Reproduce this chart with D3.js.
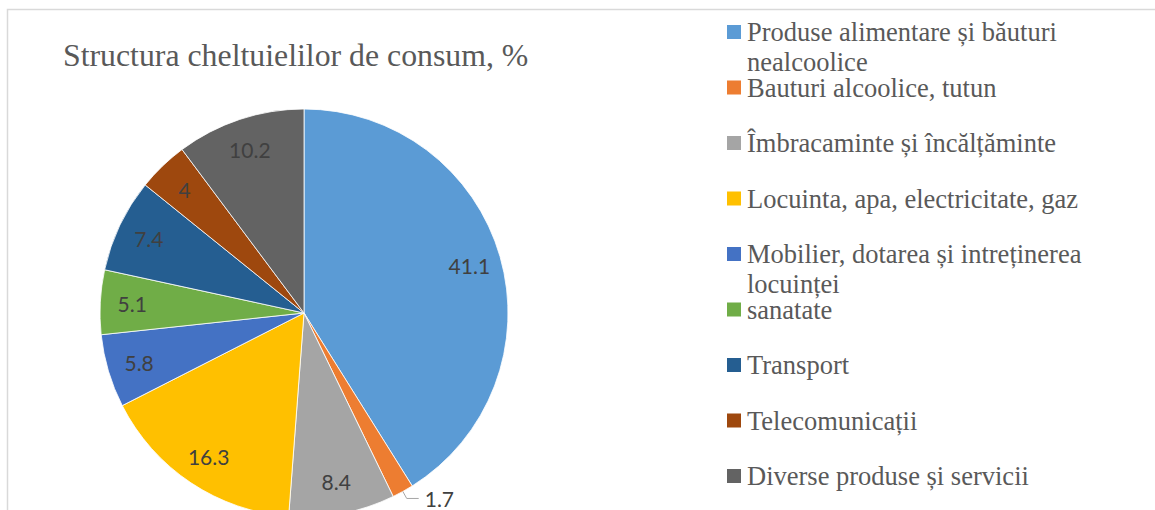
<!DOCTYPE html>
<html>
<head>
<meta charset="utf-8">
<script src="https://cdn.jsdelivr.net/npm/d3@7"></script>
<style>
	html, body { margin: 0; padding: 0; background: #fff; overflow: hidden; }
</style>
</head>
<body>
<script>
(function () {
	"use strict";

	var w = 1155;
	var h = 510;

	// chart data
	var title = "Structura cheltuielilor de consum, %";
	var categories = [
		"Produse alimentare și băuturi\nnealcoolice",
		"Bauturi alcoolice, tutun",
		"Îmbracaminte și încălțăminte",
		"Locuinta, apa, electricitate, gaz",
		"Mobilier, dotarea și intreținerea\nlocuinței",
		"sanatate",
		"Transport",
		"Telecomunicații",
		"Diverse produse și servicii"
	];
	var values = [41.1, 1.7, 8.4, 16.3, 5.8, 5.1, 7.4, 4, 10.2];
	var colors = ["#5B9BD5", "#ED7D31", "#A5A5A5", "#FFC000", "#4472C4",
		"#70AD47", "#255E91", "#9E480E", "#636363"];

	var cx = 304, cy = 313, r = 204;

	var svg = d3.select("body")
		.append("svg")
		.attr("width", w)
		.attr("height", h);

	// chart frame
	svg.append("rect")
		.attr("x", 7.5)
		.attr("y", 9.5)
		.attr("width", w + 20)
		.attr("height", h + 20)
		.attr("fill", "none")
		.attr("stroke", "#D9D9D9")
		.attr("stroke-width", 1.5);

	svg.append("text")
		.attr("x", 63)
		.attr("y", 66)
		.attr("font-family", "'Liberation Serif', 'Times New Roman', serif")
		.attr("font-size", 31.8)
		.attr("fill", "#595959")
		.text(title);

	var color = d3.scaleOrdinal().domain(categories).range(colors);

	var pie = d3.pie().sort(null).value((d) => d);
	var arcs = pie(values);

	var arc = d3.arc().innerRadius(0).outerRadius(r);
	var labelArc = d3.arc().innerRadius(172).outerRadius(172);

	var g = svg.append("g")
		.attr("transform", "translate(" + cx + "," + cy + ")");

	g.selectAll("path.slice")
		.data(arcs)
		.enter()
		.append("path")
		.attr("class", "slice")
		.attr("d", arc)
		.attr("fill", (d, i) => color(categories[i]))
		.attr("stroke", "#fff")
		.attr("stroke-width", 0.8);

	var labelFont = "Lato, 'Open Sans', sans-serif";

	// inside labels
	g.selectAll("text.val")
		.data(arcs.filter((d) => d.value >= 3))
		.enter()
		.append("text")
		.attr("class", "val")
		.attr("transform", (d) => "translate(" + labelArc.centroid(d) + ")")
		.attr("text-anchor", "middle")
		.attr("dominant-baseline", "central")
		.attr("font-family", labelFont)
		.attr("font-size", 21)
		.attr("fill", "#404040")
		.text((d) => d.value);

	// small slices: outside label with leader line
	var small = arcs.filter((d) => d.value < 3);
	small.forEach(function (d) {
		var mid = (d.startAngle + d.endAngle) / 2;
		var p0 = [Math.sin(mid) * r, -Math.cos(mid) * r];
		var p1 = [Math.sin(mid) * 212, -Math.cos(mid) * 212];
		var p2 = [p1[0] + 12, p1[1]];
		g.append("polyline")
			.attr("points", [p0, p1, p2].map((p) => p.join(",")).join(" "))
			.attr("fill", "none")
			.attr("stroke", "#A6A6A6")
			.attr("stroke-width", 1);
		g.append("text")
			.attr("x", p2[0] + 6)
			.attr("y", p2[1])
			.attr("dominant-baseline", "central")
			.attr("font-family", labelFont)
			.attr("font-size", 21)
			.attr("fill", "#404040")
			.text(d.value);
	});

	// legend
	var legend = svg.append("g");
	var item = legend.selectAll("g.item")
		.data(categories)
		.enter()
		.append("g")
		.attr("class", "item")
		.attr("transform", (d, i) => "translate(727," + (25 + i * 55.5) + ")");

	item.append("rect")
		.attr("width", 14)
		.attr("height", 14)
		.attr("fill", (d) => color(d));

	item.append("text")
		.attr("font-family", "'Liberation Serif', 'Times New Roman', serif")
		.attr("font-size", 26.5)
		.attr("fill", "#595959")
		.selectAll("tspan")
		.data((d) => d.split("\n"))
		.enter()
		.append("tspan")
		.attr("x", 20)
		.attr("y", (d, i) => 16 + i * 30)
		.text((d) => d);
})();
</script>
</body>
</html>
